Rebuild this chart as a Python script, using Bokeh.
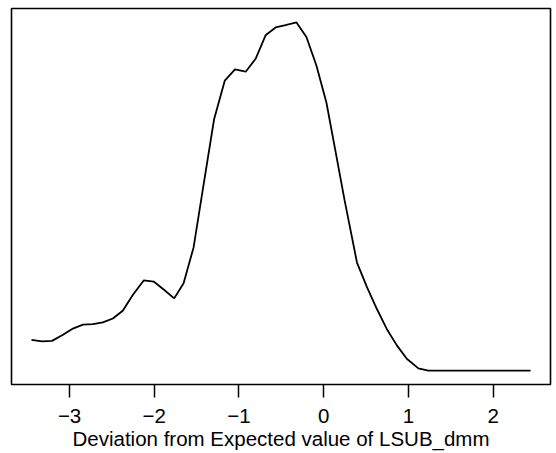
from bokeh.plotting import figure
from bokeh.models import Range1d, FixedTicker, Label
from bokeh.embed import file_html
from bokeh.resources import INLINE

# Density curve values
dev_x = [-3.450, -3.325, -3.207, -3.078, -2.960, -2.842, -2.725, -2.607, -2.489,
         -2.372, -2.254, -2.125, -2.007, -1.882, -1.765, -1.654, -1.536, -1.415,
         -1.294, -1.168, -1.047, -0.921, -0.804, -0.686, -0.568, -0.451, -0.321,
         -0.204, -0.086, 0.032, 0.138, 0.247, 0.393, 0.511, 0.628, 0.746, 0.864,
         0.981, 1.118, 1.235, 1.470, 1.710, 1.950, 2.200, 2.442]
density = [0.055, 0.052, 0.053, 0.064, 0.075, 0.082, 0.083, 0.086, 0.093,
           0.107, 0.135, 0.161, 0.159, 0.144, 0.129, 0.156, 0.220, 0.335,
           0.449, 0.518, 0.538, 0.534, 0.557, 0.599, 0.613, 0.617, 0.622,
           0.596, 0.545, 0.479, 0.393, 0.304, 0.193, 0.149, 0.110, 0.074, 0.045,
           0.021, 0.004, 0.000, 0.000, 0.000, 0.000, 0.000, 0.000]

tick_values = [-3, -2, -1, 0, 1, 2]
tick_labels = ["\u22123", "\u22122", "\u22121", "0", "1", "2"]
x_title = "Deviation from Expected value of LSUB_dmm"
corner_note = "PUAB 2"

FONT = "Liberation Sans"
FS = "20.5px"

xmin, xmax = min(dev_x), max(dev_x)
ymin, ymax = min(density), max(density)
xpad = 0.04 * (xmax - xmin)
ypad = 0.04 * (ymax - ymin)

p = figure(width=556, height=453, output_backend="svg", toolbar_location=None,
           x_range=Range1d(xmin - xpad, xmax + xpad),
           y_range=Range1d(ymin - ypad, ymax + ypad),
           min_border_left=11, min_border_right=6, min_border_top=8,
           min_border_bottom=69)

p.line(dev_x, density, line_color="black", line_width=1.8)

p.outline_line_color = "black"
p.outline_line_width = 1.6
p.grid.visible = False
p.yaxis.visible = False

ax = p.xaxis[0]
ax.ticker = FixedTicker(ticks=tick_values)
ax.major_label_overrides = {v: l for v, l in zip(tick_values, tick_labels)}
ax.axis_line_color = None
ax.major_tick_in = 0
ax.major_tick_out = 13
ax.major_tick_line_color = "black"
ax.major_tick_line_width = 1.5
ax.minor_tick_line_color = None
ax.major_label_text_font = FONT
ax.major_label_text_font_size = FS
ax.major_label_text_color = "black"
ax.major_label_standoff = 11
ax.axis_label = x_title
ax.axis_label_text_font = FONT
ax.axis_label_text_font_size = FS
ax.axis_label_text_font_style = "normal"
ax.axis_label_text_color = "black"
ax.axis_label_standoff = 1

# note running off the bottom-right edge, as in the original page
p.add_layout(Label(x=475.7, y=-58, x_units="screen", y_units="screen",
                   text=corner_note, text_font=FONT,
                   text_font_size=FS, text_color="black",
                   text_baseline="top", text_align="left"))

open("out.html", "w").write(file_html(p, INLINE))
